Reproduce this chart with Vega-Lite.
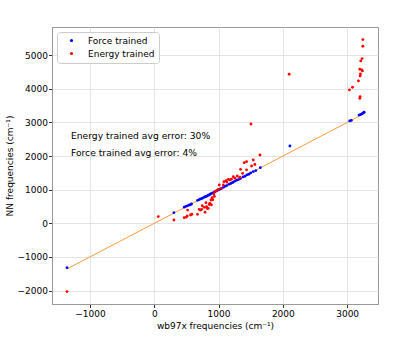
{
  "$schema": "https://vega.github.io/schema/vega-lite/v6.json",
  "width": 326,
  "height": 277,
  "autosize": {"type": "none"},
  "padding": {"left": 52, "top": 27, "right": 42, "bottom": 40},
  "background": "white",
  "config": {
    "font": "DejaVu Sans",
    "view": {"stroke": "#999999", "strokeWidth": 1},
    "axis": {
      "labelFont": "DejaVu Sans", "titleFont": "DejaVu Sans",
      "labelFontSize": 9, "titleFontSize": 9, "titleFontWeight": "normal",
      "labelColor": "#000", "titleColor": "#000",
      "domainColor": "#999999", "tickColor": "#333", "tickSize": 3.5,
      "gridColor": "#dddddd", "gridWidth": 0.8, "labelOverlap": false, "format": "d"
    },
    "legend": {"labelFont": "DejaVu Sans", "labelFontSize": 9, "labelColor": "#000"}
  },
  "datasets": {
    "pts": [
      {"x": -1357, "y": -1320, "series": "Force trained"},
      {"x": 306, "y": 316, "series": "Force trained"},
      {"x": 467, "y": 480, "series": "Force trained"},
      {"x": 493, "y": 505, "series": "Force trained"},
      {"x": 515, "y": 520, "series": "Force trained"},
      {"x": 540, "y": 540, "series": "Force trained"},
      {"x": 560, "y": 555, "series": "Force trained"},
      {"x": 580, "y": 575, "series": "Force trained"},
      {"x": 674, "y": 683, "series": "Force trained"},
      {"x": 700, "y": 705, "series": "Force trained"},
      {"x": 720, "y": 725, "series": "Force trained"},
      {"x": 745, "y": 740, "series": "Force trained"},
      {"x": 770, "y": 770, "series": "Force trained"},
      {"x": 790, "y": 790, "series": "Force trained"},
      {"x": 815, "y": 805, "series": "Force trained"},
      {"x": 840, "y": 835, "series": "Force trained"},
      {"x": 860, "y": 850, "series": "Force trained"},
      {"x": 880, "y": 880, "series": "Force trained"},
      {"x": 905, "y": 900, "series": "Force trained"},
      {"x": 925, "y": 920, "series": "Force trained"},
      {"x": 950, "y": 945, "series": "Force trained"},
      {"x": 975, "y": 970, "series": "Force trained"},
      {"x": 1000, "y": 995, "series": "Force trained"},
      {"x": 1020, "y": 1015, "series": "Force trained"},
      {"x": 1045, "y": 1035, "series": "Force trained"},
      {"x": 1075, "y": 1070, "series": "Force trained"},
      {"x": 1100, "y": 1100, "series": "Force trained"},
      {"x": 1125, "y": 1120, "series": "Force trained"},
      {"x": 1160, "y": 1160, "series": "Force trained"},
      {"x": 1190, "y": 1185, "series": "Force trained"},
      {"x": 1220, "y": 1215, "series": "Force trained"},
      {"x": 1250, "y": 1250, "series": "Force trained"},
      {"x": 1280, "y": 1280, "series": "Force trained"},
      {"x": 1310, "y": 1300, "series": "Force trained"},
      {"x": 1340, "y": 1330, "series": "Force trained"},
      {"x": 1380, "y": 1380, "series": "Force trained"},
      {"x": 1410, "y": 1400, "series": "Force trained"},
      {"x": 1440, "y": 1440, "series": "Force trained"},
      {"x": 1470, "y": 1460, "series": "Force trained"},
      {"x": 1500, "y": 1500, "series": "Force trained"},
      {"x": 1540, "y": 1540, "series": "Force trained"},
      {"x": 1580, "y": 1570, "series": "Force trained"},
      {"x": 1650, "y": 1655, "series": "Force trained"},
      {"x": 2110, "y": 2300, "series": "Force trained"},
      {"x": 3040, "y": 3046, "series": "Force trained"},
      {"x": 3065, "y": 3060, "series": "Force trained"},
      {"x": 3185, "y": 3220, "series": "Force trained"},
      {"x": 3205, "y": 3235, "series": "Force trained"},
      {"x": 3225, "y": 3250, "series": "Force trained"},
      {"x": 3240, "y": 3270, "series": "Force trained"},
      {"x": 3255, "y": 3290, "series": "Force trained"},
      {"x": 3265, "y": 3305, "series": "Force trained"},
      {"x": -1357, "y": -2030, "series": "Energy trained"},
      {"x": 63, "y": 200, "series": "Energy trained"},
      {"x": 306, "y": 98, "series": "Energy trained"},
      {"x": 467, "y": 167, "series": "Energy trained"},
      {"x": 500, "y": 185, "series": "Energy trained"},
      {"x": 514, "y": 217, "series": "Energy trained"},
      {"x": 519, "y": 395, "series": "Energy trained"},
      {"x": 565, "y": 247, "series": "Energy trained"},
      {"x": 585, "y": 270, "series": "Energy trained"},
      {"x": 674, "y": 267, "series": "Energy trained"},
      {"x": 700, "y": 415, "series": "Energy trained"},
      {"x": 720, "y": 390, "series": "Energy trained"},
      {"x": 737, "y": 415, "series": "Energy trained"},
      {"x": 747, "y": 525, "series": "Energy trained"},
      {"x": 778, "y": 475, "series": "Energy trained"},
      {"x": 790, "y": 330, "series": "Energy trained"},
      {"x": 804, "y": 614, "series": "Energy trained"},
      {"x": 814, "y": 495, "series": "Energy trained"},
      {"x": 825, "y": 440, "series": "Energy trained"},
      {"x": 840, "y": 445, "series": "Energy trained"},
      {"x": 855, "y": 560, "series": "Energy trained"},
      {"x": 866, "y": 594, "series": "Energy trained"},
      {"x": 882, "y": 693, "series": "Energy trained"},
      {"x": 890, "y": 550, "series": "Energy trained"},
      {"x": 900, "y": 760, "series": "Energy trained"},
      {"x": 910, "y": 700, "series": "Energy trained"},
      {"x": 928, "y": 872, "series": "Energy trained"},
      {"x": 935, "y": 800, "series": "Energy trained"},
      {"x": 944, "y": 941, "series": "Energy trained"},
      {"x": 970, "y": 975, "series": "Energy trained"},
      {"x": 996, "y": 1011, "series": "Energy trained"},
      {"x": 1011, "y": 1140, "series": "Energy trained"},
      {"x": 1045, "y": 1040, "series": "Energy trained"},
      {"x": 1074, "y": 1140, "series": "Energy trained"},
      {"x": 1084, "y": 1239, "series": "Energy trained"},
      {"x": 1115, "y": 1268, "series": "Energy trained"},
      {"x": 1130, "y": 1230, "series": "Energy trained"},
      {"x": 1151, "y": 1308, "series": "Energy trained"},
      {"x": 1175, "y": 1290, "series": "Energy trained"},
      {"x": 1200, "y": 1310, "series": "Energy trained"},
      {"x": 1229, "y": 1388, "series": "Energy trained"},
      {"x": 1255, "y": 1340, "series": "Energy trained"},
      {"x": 1291, "y": 1407, "series": "Energy trained"},
      {"x": 1330, "y": 1370, "series": "Energy trained"},
      {"x": 1343, "y": 1606, "series": "Energy trained"},
      {"x": 1374, "y": 1487, "series": "Energy trained"},
      {"x": 1400, "y": 1804, "series": "Energy trained"},
      {"x": 1436, "y": 1834, "series": "Energy trained"},
      {"x": 1436, "y": 1590, "series": "Energy trained"},
      {"x": 1514, "y": 1705, "series": "Energy trained"},
      {"x": 1540, "y": 1884, "series": "Energy trained"},
      {"x": 1565, "y": 1750, "series": "Energy trained"},
      {"x": 1644, "y": 2032, "series": "Energy trained"},
      {"x": 1504, "y": 2955, "series": "Energy trained"},
      {"x": 2098, "y": 4434, "series": "Energy trained"},
      {"x": 3036, "y": 3968, "series": "Energy trained"},
      {"x": 3083, "y": 4048, "series": "Energy trained"},
      {"x": 3176, "y": 4236, "series": "Energy trained"},
      {"x": 3197, "y": 3720, "series": "Energy trained"},
      {"x": 3202, "y": 3770, "series": "Energy trained"},
      {"x": 3202, "y": 4385, "series": "Energy trained"},
      {"x": 3207, "y": 4444, "series": "Energy trained"},
      {"x": 3197, "y": 4583, "series": "Energy trained"},
      {"x": 3228, "y": 4563, "series": "Energy trained"},
      {"x": 3238, "y": 4534, "series": "Energy trained"},
      {"x": 3212, "y": 4831, "series": "Energy trained"},
      {"x": 3233, "y": 4901, "series": "Energy trained"},
      {"x": 3244, "y": 5268, "series": "Energy trained"},
      {"x": 3244, "y": 5466, "series": "Energy trained"}
    ],
    "line": [{"x": -1357, "y": -1357}, {"x": 3265, "y": 3265}],
    "notes": [
      {"x": -1295, "y": 2600, "label": "Energy trained avg error: 30%"},
      {"x": -1295, "y": 2090, "label": "Force trained avg error: 4%"}
    ]
  },
  "encoding": {
    "x": {"field": "x", "type": "quantitative",
          "scale": {"domain": [-1590, 3480], "nice": false, "zero": false},
          "axis": {"values": [-1000, 0, 1000, 2000, 3000], "title": "wb97x frequencies (cm⁻¹)", "titlePadding": 3, "labelPadding": 2}},
    "y": {"field": "y", "type": "quantitative",
          "scale": {"domain": [-2400, 5840], "nice": false, "zero": false},
          "axis": {"values": [-2000, -1000, 0, 1000, 2000, 3000, 4000, 5000], "title": "NN frequencies (cm⁻¹)", "titlePadding": 3, "labelPadding": 1}}
  },
  "layer": [
    {
      "data": {"name": "line"},
      "mark": {"type": "line", "color": "#ff9a3c", "strokeWidth": 1},
      "encoding": {}
    },
    {
      "data": {"name": "pts"},
      "mark": {"type": "circle", "size": 8, "opacity": 1},
      "encoding": {
        "color": {"field": "series", "type": "nominal",
                  "scale": {"domain": ["Force trained", "Energy trained"], "range": ["#0000ff", "#ff0000"]},
                  "legend": {"title": null, "orient": "none", "legendX": 5, "legendY": 5,
                             "symbolType": "circle", "symbolSize": 10, "symbolOffset": 6,
                             "labelOffset": 12, "rowPadding": 3, "padding": 4,
                             "fillColor": "white", "strokeColor": "#cccccc", "cornerRadius": 3}}
      }
    },
    {
      "data": {"name": "notes"},
      "mark": {"type": "text", "align": "left", "baseline": "middle", "fontSize": 9.2, "font": "DejaVu Sans", "color": "#000"},
      "encoding": {
        "text": {"field": "label"}
      }
    }
  ]
}
